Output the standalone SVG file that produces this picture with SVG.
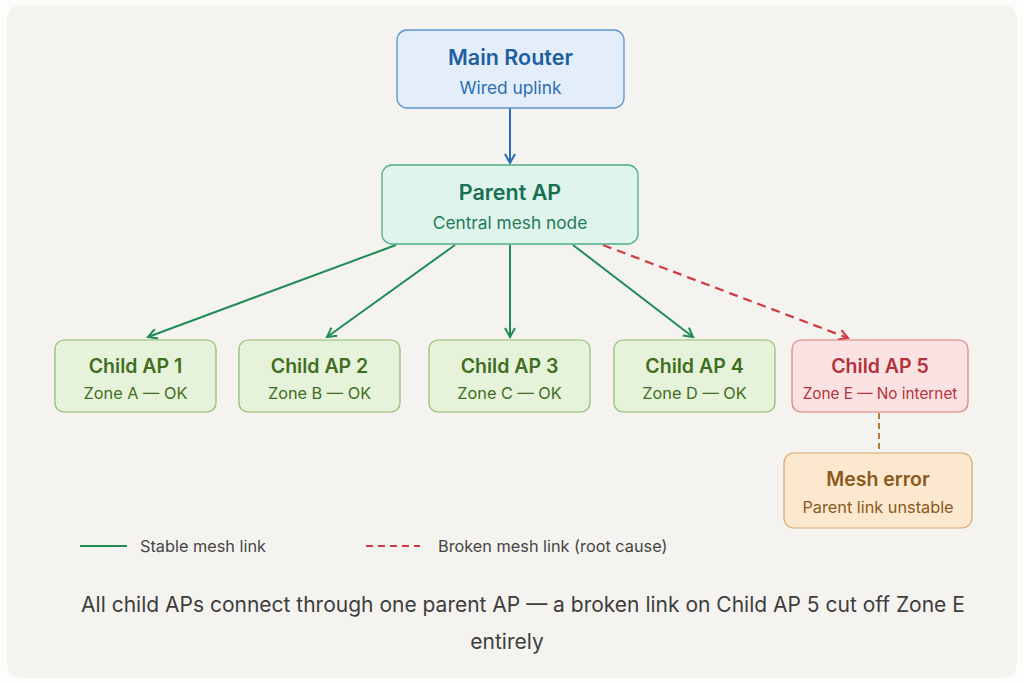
<svg xmlns="http://www.w3.org/2000/svg" width="1024" height="683" viewBox="0 0 1024 683">
<defs>
<style>
text{font-family:Inter,"Noto Sans","DejaVu Sans",sans-serif;text-anchor:middle}
.t{font-size:21.5px;font-weight:600}
.s{font-size:17.3px}
.ct{font-size:19.5px;font-weight:600}
.cs{font-size:16.3px}
.ok rect{fill:#e6f2d9;stroke:#8dbd6e;stroke-width:1.2}
.ok text{fill:#3f6e22}
.edge{stroke:#1f8c55;stroke-width:2;fill:none}
.lg{font-size:16.3px;text-anchor:start;fill:#444}
.cap{font-size:21px;fill:#3d3d3d}
</style>
<marker id="ag" viewBox="0 0 12 12" refX="10" refY="6" markerWidth="12" markerHeight="12" markerUnits="userSpaceOnUse" orient="auto"><path d="M1,1 L10,6 L1,11" fill="none" stroke="#1f8c55" stroke-width="2"/></marker>
<marker id="ab" viewBox="0 0 12 12" refX="10" refY="6" markerWidth="12" markerHeight="12" markerUnits="userSpaceOnUse" orient="auto"><path d="M1,1 L10,6 L1,11" fill="none" stroke="#2a6db5" stroke-width="2"/></marker>
<marker id="ar" viewBox="0 0 12 12" refX="10" refY="6" markerWidth="12" markerHeight="12" markerUnits="userSpaceOnUse" orient="auto"><path d="M1,1 L10,6 L1,11" fill="none" stroke="#d0393f" stroke-width="2"/></marker>
</defs>
<rect x="0" y="0" width="1024" height="683" fill="#fdfdfc"/>
<rect x="7" y="5" width="1010" height="673" rx="14" fill="#f5f3ef"/>

<g id="connectors">
<line x1="510" y1="108" x2="510" y2="163" stroke="#2a6db5" stroke-width="2" marker-end="url(#ab)"/>
<line class="edge" x1="396" y1="245" x2="148" y2="337" marker-end="url(#ag)"/>
<line class="edge" x1="455" y1="245" x2="327" y2="337" marker-end="url(#ag)"/>
<line class="edge" x1="510" y1="245" x2="510" y2="337" marker-end="url(#ag)"/>
<line class="edge" x1="573" y1="245" x2="693" y2="337" marker-end="url(#ag)"/>
<line x1="603" y1="245" x2="848" y2="338" stroke="#d0393f" stroke-width="2.2" stroke-dasharray="9,6" marker-end="url(#ar)"/>
<line x1="879" y1="413" x2="879" y2="453" stroke="#b87a3c" stroke-width="2" stroke-dasharray="6,4"/>
</g>

<g id="main-router">
<rect x="397" y="30" width="227" height="78" rx="10" fill="#e3eefa" stroke="#5b93d0" stroke-width="1.3"/>
<text class="t" x="510.5" y="65" fill="#1e5fa0">Main Router</text>
<text class="s" x="510.5" y="94" fill="#2a6db5">Wired uplink</text>
</g>

<g id="parent-ap">
<rect x="382" y="165" width="256" height="79" rx="10" fill="#def4ec" stroke="#4fae85" stroke-width="1.3"/>
<text class="t" x="510" y="200" fill="#17704f">Parent AP</text>
<text class="s" x="510" y="229" fill="#1f7a55">Central mesh node</text>
</g>

<g id="child-ap-1" class="ok">
<rect x="55" y="340" width="161" height="72" rx="9"/>
<text class="ct" x="135.5" y="373">Child AP 1</text>
<text class="cs" x="135.5" y="399">Zone A — OK</text>
</g>
<g id="child-ap-2" class="ok">
<rect x="239" y="340" width="161" height="72" rx="9"/>
<text class="ct" x="319.5" y="373">Child AP 2</text>
<text class="cs" x="319.5" y="399">Zone B — OK</text>
</g>
<g id="child-ap-3" class="ok">
<rect x="429" y="340" width="161" height="72" rx="9"/>
<text class="ct" x="509.5" y="373">Child AP 3</text>
<text class="cs" x="509.5" y="399">Zone C — OK</text>
</g>
<g id="child-ap-4" class="ok">
<rect x="614" y="340" width="161" height="72" rx="9"/>
<text class="ct" x="694.5" y="373">Child AP 4</text>
<text class="cs" x="694.5" y="399">Zone D — OK</text>
</g>
<g id="child-ap-5">
<rect x="792" y="340" width="176" height="72" rx="9" fill="#fbe2e2" stroke="#e07a7a" stroke-width="1.2"/>
<text class="ct" x="880" y="373" fill="#b3313a">Child AP 5</text>
<text class="cs" x="880" y="399" fill="#b3313a" style="font-size:15.3px">Zone E — No internet</text>
</g>

<g id="mesh-error">
<rect x="784" y="453" width="188" height="75" rx="10" fill="#fbe8cf" stroke="#d9a56b" stroke-width="1.2"/>
<text class="ct" x="878" y="486" fill="#8a5a1c">Mesh error</text>
<text class="cs" x="878" y="513" fill="#8a5a1c">Parent link unstable</text>
</g>

<g id="legend">
<line x1="80" y1="546" x2="127" y2="546" stroke="#1f8c55" stroke-width="2"/>
<text class="lg" x="140" y="552">Stable mesh link</text>
<line x1="366" y1="546" x2="420" y2="546" stroke="#d0393f" stroke-width="2" stroke-dasharray="7,5"/>
<text class="lg" x="438" y="552">Broken mesh link (root cause)</text>
</g>

<g id="caption">
<text class="cap" x="523" y="612">All child APs connect through one parent AP — a broken link on Child AP 5 cut off Zone E</text>
<text class="cap" x="507" y="649">entirely</text>
</g>
</svg>
